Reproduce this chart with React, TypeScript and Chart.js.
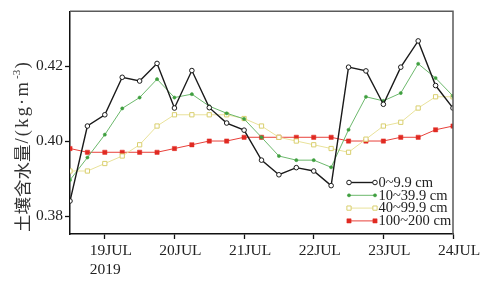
import React, { useEffect, useRef } from "react";
import { Chart, registerables } from "chart.js";

Chart.register(...registerables);

// ---- data ----
const times = [
  18.5, 18.75, 19.0, 19.25, 19.5, 19.75, 20.0, 20.25, 20.5, 20.75, 21.0, 21.25,
  21.5, 21.75, 22.0, 22.25, 22.5, 22.75, 23.0, 23.25, 23.5, 23.75, 24.0,
];
const tickDays = [19, 20, 21, 22, 23, 24];
const tickLabels = ["19JUL", "20JUL", "21JUL", "22JUL", "23JUL", "24JUL"];
const yearLabel = "2019";
const yTicks = [0.38, 0.4, 0.42];
const seriesNames = ["0~9.9 cm", "10~39.9 cm", "40~99.9 cm", "100~200 cm"];
const yTitleCJK = "土壤含水量";
const yTitleUnit = "/(kg·m";
const yTitleSup = "-3";
const yTitleEnd = ")";

const depth0 = [
  0.384, 0.404, 0.407, 0.417, 0.416, 0.4207, 0.4088, 0.4188, 0.4089, 0.4048, 0.4029, 0.3949,
  0.391, 0.3929, 0.392, 0.3881, 0.4197, 0.4187, 0.4098, 0.4197, 0.4267, 0.4148, 0.4088,
];
const depth10 = [
  0.3896, 0.3956, 0.4017, 0.4087, 0.4116, 0.4165, 0.4116, 0.4125, 0.4093, 0.4074, 0.4059, 0.401,
  0.396, 0.3949, 0.3949, 0.393, 0.403, 0.4118, 0.4107, 0.4128, 0.4206, 0.4168, 0.412,
];
const depth40 = [
  0.392, 0.392, 0.394, 0.396, 0.399, 0.404, 0.407, 0.407, 0.407, 0.407, 0.406, 0.404,
  0.401, 0.4, 0.399, 0.398, 0.397, 0.4005, 0.404, 0.405, 0.4088, 0.4118, 0.4118,
];
const depth100 = [
  0.398, 0.397, 0.397, 0.397, 0.397, 0.397, 0.398, 0.399, 0.4, 0.4, 0.401, 0.401,
  0.401, 0.401, 0.401, 0.401, 0.4, 0.4, 0.4, 0.401, 0.401, 0.403, 0.404,
];

const SERIF = '"Liberation Serif", "Times New Roman", serif';
const CJK = '"Noto Sans CJK SC", "Noto Sans CJK JP", sans-serif';

const styles = [
  { line: "#1a1a1a", lw: 1.4, fill: "#ffffff", border: "#1a1a1a", shape: "circle", r: 2.3, bw: 1 },
  { line: "#6cb86c", lw: 1, fill: "#3f9f3f", border: "#3f9f3f", shape: "circle", r: 1.6, bw: 0.5 },
  { line: "#e9e29a", lw: 1, fill: "#ffffff", border: "#d9cf6e", shape: "rect", r: 3, bw: 1 },
  { line: "#e8403a", lw: 1, fill: "#e02a22", border: "#e02a22", shape: "rect", r: 3, bw: 0.5 },
];

function drawMarker(ctx: CanvasRenderingContext2D, s: any, x: number, y: number) {
  ctx.save();
  ctx.fillStyle = s.fill;
  ctx.strokeStyle = s.border;
  ctx.lineWidth = s.bw;
  ctx.beginPath();
  if (s.shape === "circle") {
    ctx.arc(x, y, s.r, 0, Math.PI * 2);
  } else {
    const h = s.r * Math.SQRT1_2;
    ctx.rect(x - h, y - h, 2 * h, 2 * h);
  }
  ctx.fill();
  ctx.stroke();
  ctx.restore();
}

const customPlugin = {
  id: "customDecor",
  afterDraw(chart: any) {
    const ctx: any = chart.ctx;
    const area = chart.chartArea;
    // frame top/right
    ctx.save();
    ctx.strokeStyle = "#5a5a5a";
    ctx.lineWidth = 1.5;
    ctx.beginPath();
    ctx.moveTo(area.left, area.top);
    ctx.lineTo(area.right, area.top);
    ctx.lineTo(area.right, area.bottom);
    ctx.stroke();
    ctx.restore();

    // y title (rotated, from bottom upward)
    ctx.save();
    ctx.translate(22, area.bottom - 2);
    ctx.rotate(-Math.PI / 2);
    ctx.fillStyle = "#333";
    ctx.textAlign = "left";
    ctx.textBaseline = "middle";
    let cx = 0;
    ctx.font = `17.5px ${CJK}`;
    ctx.fillText(yTitleCJK, cx, 0);
    cx += ctx.measureText(yTitleCJK).width + 1;
    ctx.font = `18.5px ${SERIF}`;
    if ("letterSpacing" in ctx) ctx.letterSpacing = "2.2px";
    ctx.fillText(yTitleUnit, cx, 1);
    cx += ctx.measureText(yTitleUnit).width + 1;
    ctx.font = `11px ${SERIF}`;
    if ("letterSpacing" in ctx) ctx.letterSpacing = "0px";
    ctx.fillText(yTitleSup, cx, -5);
    cx += ctx.measureText(yTitleSup).width + 1.5;
    ctx.font = `18.5px ${SERIF}`;
    ctx.fillText(yTitleEnd, cx, 1);
    ctx.restore();

    // x tick labels
    const xs = chart.scales.x;
    ctx.save();
    ctx.font = `15.5px ${SERIF}`;
    ctx.fillStyle = "#222";
    ctx.textBaseline = "alphabetic";
    ctx.textAlign = "center";
    tickDays.forEach((d, i) => {
      const px = xs.getPixelForValue(d) + 6;
      ctx.fillText(tickLabels[i], px, area.bottom + 20.5);
      if (i === 0) {
        const w = ctx.measureText(tickLabels[i]).width;
        ctx.textAlign = "left";
        ctx.fillText(yearLabel, px - w / 2, area.bottom + 40);
        ctx.textAlign = "center";
      }
    });
    ctx.restore();

    // legend
    ctx.save();
    const x0 = area.right - 104;
    const x1 = area.right - 78;
    const y0 = area.bottom - 51.5;
    ctx.font = `14.5px ${SERIF}`;
    ctx.fillStyle = "#222";
    ctx.textAlign = "left";
    ctx.textBaseline = "middle";
    seriesNames.forEach((name, i) => {
      const s = styles[i];
      const y = y0 + i * 12.8;
      ctx.strokeStyle = s.line;
      ctx.lineWidth = s.lw;
      ctx.beginPath();
      ctx.moveTo(x0, y);
      ctx.lineTo(x1, y);
      ctx.stroke();
      drawMarker(ctx, s, x0, y);
      drawMarker(ctx, s, x1, y);
      ctx.fillText(name, x1 + 3.5, y + 0.5);
    });
    ctx.restore();
  },
};

export default function App() {
  const ref = useRef<HTMLCanvasElement | null>(null);
  useEffect(() => {
    if (!ref.current) return;
    const all = [depth0, depth10, depth40, depth100];
    const chart = new Chart(ref.current, {
      type: "line",
      data: {
        datasets: all.map((vals, i) => ({
          label: seriesNames[i],
          data: times.map((t, k) => ({ x: t, y: vals[k] })),
          borderColor: styles[i].line,
          borderWidth: styles[i].lw,
          pointStyle: styles[i].shape as any,
          pointRadius: styles[i].r,
          pointBackgroundColor: styles[i].fill,
          pointBorderColor: styles[i].border,
          pointBorderWidth: styles[i].bw,
          tension: 0,
          fill: false,
        })),
      },
      options: {
        animation: false,
        responsive: false,
        devicePixelRatio: 1,
        layout: { padding: { top: 11, right: 33, bottom: 42, left: 0 } },
        plugins: {
          legend: { display: false },
          tooltip: { enabled: false },
        },
        scales: {
          x: {
            type: "linear",
            min: 18.5,
            max: 24,
            afterBuildTicks: (scale: any) => {
              scale.ticks = tickDays.map((v) => ({ value: v }));
            },
            ticks: { display: false },
            grid: {
              drawOnChartArea: false,
              drawTicks: true,
              tickLength: 5,
              tickColor: "#111",
              tickWidth: 1.3,
            },
            border: { color: "#111", width: 1.5 },
          },
          y: {
            type: "linear",
            min: 0.3752,
            max: 0.4346,
            afterBuildTicks: (scale: any) => {
              scale.ticks = yTicks.map((v) => ({ value: v }));
            },
            afterFit: (scale: any) => {
              scale.width = 70;
            },
            ticks: {
              padding: 2,
              color: "#222",
              font: { family: SERIF, size: 15.5 },
              callback: (v: any) => Number(v).toFixed(2),
            },
            grid: {
              drawOnChartArea: false,
              drawTicks: true,
              tickLength: 5,
              tickColor: "#111",
              tickWidth: 1.3,
            },
            border: { color: "#111", width: 1.5 },
          },
        },
      },
      plugins: [customPlugin],
    });
    return () => chart.destroy();
  }, []);
  return (
    <div style={{ position: "absolute", left: 0, top: 0, width: 486, height: 281, background: "#fff" }}>
      <canvas ref={ref} width={486} height={281} style={{ display: "block" }} />
    </div>
  );
}
